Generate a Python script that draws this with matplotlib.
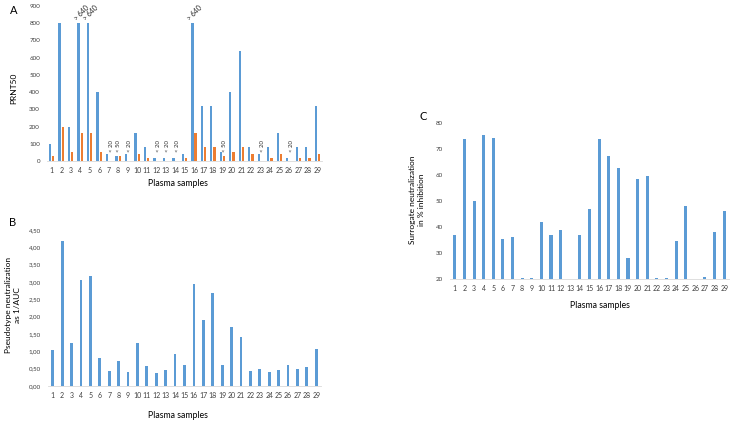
import numpy as np
import matplotlib
matplotlib.use('Agg')
from matplotlib import pyplot as plt
import matplotlib.ticker as mtick

plt.rcParams['font.family'] = ['Lato', 'DejaVu Sans']

# data
samples = list(range(1, 30))

# A: PRNT50 (blue / orange series)
prnt_blue = [100, 800, 200, 800, 800, 400, 40, 30, 40, 160, 80, 20, 20, 20, 40,
             800, 320, 320, 50, 400, 640, 80, 40, 80, 160, 20, 80, 80, 320]
prnt_orange = [30, 200, 50, 160, 160, 50, 0, 30, 0, 40, 20, 0, 0, 0, 20,
               160, 80, 80, 30, 50, 80, 40, 0, 20, 40, 0, 20, 20, 40]
over_labels = {4: '> 640', 5: '> 640', 16: '> 640'}
under_labels = {7: '< 20', 8: '< 50', 9: '< 20', 12: '< 20', 13: '< 20', 14: '< 20',
                19: '< 50', 23: '< 20', 26: '< 20'}

# B: pseudotype neutralization (1/AUC)
pseudo = [1.03, 4.18, 1.25, 3.05, 3.16, 0.80, 0.44, 0.73, 0.41, 1.25, 0.58, 0.38, 0.46,
          0.91, 0.62, 2.95, 1.90, 2.67, 0.61, 1.71, 1.42, 0.44, 0.49, 0.40, 0.45, 0.62,
          0.49, 0.56, 1.08]

# C: surrogate neutralization (% inhibition)
surrogate = [37.0, 74.0, 50.0, 75.5, 74.2, 35.5, 36.0, 20.2, 20.2, 42.0, 37.0, 38.7,
             20.1, 36.8, 46.8, 73.7, 67.5, 62.7, 28.2, 58.3, 59.6, 20.2, 20.2, 34.8,
             48.2, 20.1, 20.7, 38.2, 46.2]

blue = '#5B9BD5'
orange = '#ED7D31'
tick_col = '#404040'

fig = plt.figure(figsize=(7.31, 4.22), dpi=100)
W, H = 731.0, 422.0


def add_axes(x0, x1, ytop, ybot):
    return fig.add_axes([x0 / W, 1 - ybot / H, (x1 - x0) / W, (ybot - ytop) / H])


def style(ax, ysize=4.5):
    for s in ['top', 'right', 'left']:
        ax.spines[s].set_visible(False)
    ax.spines['bottom'].set_color('#d9d9d9')
    ax.spines['bottom'].set_linewidth(0.6)
    ax.tick_params(length=0)
    ax.tick_params(axis='x', labelsize=5, pad=4.5, colors=tick_col)
    ax.tick_params(axis='y', labelsize=ysize, pad=5, colors=tick_col)
    ax.set_xticks(samples)
    ax.set_xlim(0.5, 29.5)


x = np.array(samples)

# ---------------- panel A ----------------
axA = add_axes(47, 322, 6, 161)
axA.bar(x - 0.17, prnt_blue, width=0.24, color=blue)
axA.bar(x + 0.17, prnt_orange, width=0.24, color=orange)
axA.set_ylim(0, 900)
axA.set_yticks(range(0, 901, 100))
style(axA)
for k, txt in over_labels.items():
    axA.text(k - 0.3, prnt_blue[k - 1] + 10, txt, rotation=45, fontsize=5,
             ha='left', va='bottom', rotation_mode='anchor', color='#202020')
for k, txt in under_labels.items():
    off = 0.0 if k == 8 else 0.25
    axA.text(k + off, 50, txt, rotation=90, fontsize=4.3, ha='center',
             va='bottom', color='#303030')
fig.text(10 / W, 1 - 10 / H, 'A', fontsize=8, ha='left', va='center')
fig.text(14 / W, 1 - 88 / H, 'PRNT50', fontsize=6, rotation=90, ha='center', va='center')
fig.text(178 / W, 1 - 183 / H, 'Plasma samples', fontsize=6.3, ha='center', va='center')

# ---------------- panel B ----------------
axB = add_axes(48, 321, 230, 386)
axB.bar(x, pseudo, width=0.3, color=blue)
axB.set_ylim(0, 4.5)
axB.set_yticks(np.arange(0, 4.51, 0.5))
axB.yaxis.set_major_formatter(mtick.FuncFormatter(lambda v, p: f'{v:.2f}'.replace('.', ',')))
style(axB)
fig.text(9 / W, 1 - 222 / H, 'B', fontsize=8, ha='left', va='center')
fig.text(13 / W, 1 - 305 / H, 'Pseudotype neutralization\nas 1/AUC', fontsize=6,
         rotation=90, ha='center', va='center', linespacing=1.3)
fig.text(178 / W, 1 - 416 / H, 'Plasma samples', fontsize=6.3, ha='center', va='center')

# ---------------- panel C ----------------
axC = add_axes(450, 729, 123, 279)
axC.bar(x, [v - 20 for v in surrogate], bottom=20, width=0.32, color=blue)
axC.set_ylim(20, 80)
axC.set_yticks(range(20, 81, 10))
style(axC)
fig.text(419 / W, 1 - 117 / H, 'C', fontsize=8, ha='left', va='center')
fig.text(417 / W, 1 - 200 / H, 'Surrogate neutralization\nin % inhibition', fontsize=6,
         rotation=90, ha='center', va='center', linespacing=1.3)
fig.text(600 / W, 1 - 305 / H, 'Plasma samples', fontsize=6.3, ha='center', va='center')

fig.savefig('out.png', dpi=100)
